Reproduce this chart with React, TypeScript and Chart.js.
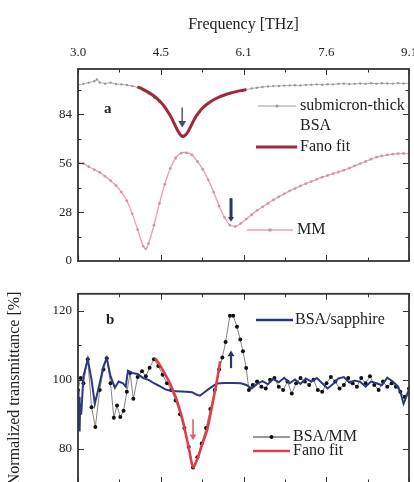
import React, { useEffect, useRef } from 'react';
import { Chart, registerables } from 'chart.js';
Chart.register(...registerables);

const FONT = '"Liberation Serif", "DejaVu Serif", "Times New Roman", serif';

// ---------- axes ----------
const xTickValues = [3.0, 4.525, 6.05, 7.575, 9.1];
const xTickLabels = ['3.0', '4.5', '6.1', '7.6', '9.1'];
const xMinorTicks = [3.7625, 5.2875, 6.8125, 8.3375];
const aYTicks = [0, 28, 56, 84];
const aYMinor = [14, 42, 70, 98];
const bYTicks = [80, 100, 120];
const bYMinor = [70, 90, 110];

// ---------- panel a ----------
const bsaFreq = [3.0, 3.1, 3.2, 3.3, 3.35, 3.4, 3.5, 3.6, 3.7, 3.8, 3.9, 4.0, 4.1, 4.2, 4.3, 4.4, 4.5, 4.6, 4.7, 4.8, 4.9, 5.0, 5.1, 5.2, 5.3, 5.4, 5.5, 5.6, 5.7, 5.8, 5.9, 6.0, 6.1, 6.2, 6.3, 6.4, 6.5, 6.6, 6.7, 6.8, 6.9, 7.0, 7.1, 7.2, 7.3, 7.4, 7.5, 7.6, 7.7, 7.8, 7.9, 8.0, 8.1, 8.2, 8.3, 8.4, 8.5, 8.6, 8.7, 8.8, 8.9, 9.0, 9.1];
const bsaT = [101.0, 101.5, 102.2, 103.0, 104.0, 102.3, 101.6, 102.2, 101.4, 101.2, 100.8, 100.3, 99.5, 97.8, 95.9, 93.6, 91.0, 87.8, 83.0, 77.5, 72.0, 73.0, 78.5, 83.5, 87.5, 90.2, 92.3, 94.0, 95.2, 96.3, 97.0, 97.6, 98.2, 98.8, 99.3, 99.7, 100.0, 100.2, 100.3, 100.5, 100.6, 100.7, 100.6, 100.9, 101.0, 101.2, 101.0, 101.3, 101.2, 101.5, 101.6, 101.4, 101.5, 101.7, 101.5, 101.8, 101.6, 101.8, 101.7, 101.6, 101.9, 101.7, 101.8];

const fanoAFreq = [4.1, 4.2, 4.3, 4.4, 4.5, 4.6, 4.7, 4.75, 4.8, 4.85, 4.9, 4.95, 5.0, 5.05, 5.1, 5.15, 5.2, 5.3, 5.4, 5.5, 5.6, 5.7, 5.8, 5.9, 6.0, 6.1];
const fanoAT = [99.8, 98.3, 96.6, 94.5, 91.8, 88.2, 83.3, 80.3, 77.0, 74.0, 71.8, 71.4, 72.8, 75.4, 78.5, 81.5, 84.0, 87.8, 90.4, 92.4, 93.9, 95.1, 96.1, 96.9, 97.6, 98.2];

const mmFreq = [3.0, 3.1, 3.2, 3.3, 3.4, 3.5, 3.6, 3.7, 3.8, 3.9, 4.0, 4.1, 4.2, 4.25, 4.3, 4.4, 4.5, 4.6, 4.7, 4.8, 4.9, 5.0, 5.1, 5.2, 5.3, 5.4, 5.5, 5.6, 5.7, 5.8, 5.9, 6.0, 6.1, 6.2, 6.3, 6.4, 6.5, 6.6, 6.7, 6.8, 6.9, 7.0, 7.1, 7.2, 7.3, 7.4, 7.5, 7.6, 7.7, 7.8, 7.9, 8.0, 8.1, 8.2, 8.3, 8.4, 8.5, 8.6, 8.7, 8.8, 8.9, 9.0, 9.1];
const mmT = [56.5, 55.8, 54.0, 52.3, 50.8, 48.5, 46.0, 43.2, 39.5, 34.5, 27.0, 18.0, 8.5, 7.0, 10.0, 20.5, 33.0, 44.0, 53.0, 59.0, 61.8, 62.0, 60.8, 57.0, 52.5, 46.5, 39.5, 31.5, 25.0, 20.5, 19.8, 21.5, 24.0, 26.5, 29.0, 31.0, 33.0, 35.0, 36.8, 38.5, 40.2, 41.5, 43.0, 44.3, 45.5, 46.8, 48.0, 49.0, 50.0, 51.0, 52.0, 53.2, 54.5, 55.8, 57.0, 58.3, 59.5, 60.2, 60.8, 61.2, 61.5, 61.6, 61.5];

// ---------- panel b ----------
const sapFreq = [3.0, 3.01, 3.02, 3.03, 3.04, 3.06, 3.1, 3.18, 3.25, 3.31, 3.4, 3.47, 3.53, 3.6, 3.68, 3.75, 3.83, 3.88, 3.92, 4.0, 4.1, 4.2, 4.3, 4.4, 4.5, 4.6, 4.7, 4.8, 4.9, 5.0, 5.1, 5.2, 5.25, 5.3, 5.4, 5.5, 5.56, 5.7, 5.86, 6.0, 6.1, 6.2, 6.3, 6.4, 6.5, 6.6, 6.7, 6.8, 6.9, 7.0, 7.1, 7.2, 7.3, 7.4, 7.5, 7.6, 7.7, 7.8, 7.9, 8.0, 8.1, 8.2, 8.3, 8.4, 8.5, 8.6, 8.7, 8.8, 8.9, 8.95, 9.0, 9.05, 9.1];
const sapT = [97, 86, 95, 85, 93, 90, 101, 106, 100, 93, 99, 104, 106.3, 101, 97.7, 99.5, 99, 98, 102.6, 102, 101.7, 100.5, 100, 99, 98.2, 97.3, 96.8, 96.7, 96.6, 96.5, 96.4, 95.6, 95.4, 96, 97.2, 98.3, 98.9, 99.1, 99.1, 99, 98.5, 97.5, 98.8, 99.6, 98.7, 100.2, 99.3, 100.6, 99, 100.1, 98.8, 100.4, 99.5, 100.5, 99, 97.5, 98.8, 100.4, 100.8, 99.2, 99.8, 99.4, 98, 99.5, 99, 98.4, 100.6, 99.5, 98, 96, 93, 95, 97];

const mmBFreq = [3.0, 3.05, 3.1, 3.18, 3.25, 3.32, 3.4, 3.47, 3.53, 3.6, 3.66, 3.72, 3.78, 3.84, 3.9, 3.96, 4.02, 4.1, 4.18, 4.25, 4.32, 4.4, 4.48, 4.56, 4.64, 4.72, 4.8, 4.88, 4.96, 5.04, 5.12, 5.2, 5.28, 5.36, 5.44, 5.52, 5.6, 5.66, 5.72, 5.8, 5.86, 5.93, 5.99, 6.04, 6.1, 6.15, 6.22, 6.3, 6.38, 6.46, 6.54, 6.62, 6.7, 6.78, 6.86, 6.94, 7.02, 7.1, 7.18, 7.26, 7.34, 7.42, 7.5, 7.58, 7.66, 7.74, 7.82, 7.9, 7.98, 8.06, 8.14, 8.22, 8.3, 8.38, 8.46, 8.54, 8.62, 8.7, 8.78, 8.86, 8.94, 9.02, 9.1];
const mmBT = [97, 100.5, 99, 106, 92, 86.3, 97, 103, 106.3, 99, 89, 92.5, 89.2, 91, 96.5, 102, 94.5, 100.8, 102.5, 101, 103.5, 106, 104, 101.5, 99, 97, 94, 90, 86, 80.5, 74.5, 77.5, 81.5, 86, 91.5, 97, 103, 106.5, 111, 118.6, 118.6, 115.4, 111.7, 108.3, 103.4, 97, 98.5, 99.5, 98, 97.5, 100, 100.5, 98, 97, 99.5, 96, 99, 100.5, 99.5, 98.5, 100, 97, 96.5, 99, 100.8, 99.5, 97.5, 98.5, 100.5, 99, 98, 100.5, 99, 101, 98.5, 97, 99.5, 98, 99, 98, 96.5, 95, 97.5];

const fanoBFreq = [4.42, 4.5, 4.6, 4.7, 4.75, 4.8, 4.9, 4.97, 5.05, 5.12, 5.2, 5.3, 5.38, 5.46, 5.56, 5.62];
const fanoBT = [106.3, 104.5, 101.8, 98.8, 96.9, 95.0, 90.0, 85.4, 79.5, 74.6, 77.0, 81.8, 85.4, 91.5, 99.7, 105.4];

// ---------- annotations (arrows in data units) ----------
const arrowsA = [
  { x: 4.92, from: 88, to: 76.5, color: '#4a4e66', width: 1.4, head: 4 },
  { x: 5.82, from: 36, to: 22.5, color: '#2b3470', width: 3, head: 3 },
];
const arrowsB = [
  { x: 5.12, from: 88.5, to: 82.5, color: '#e0606a', width: 1.6, head: 3.5 },
  { x: 5.82, from: 103.4, to: 108.5, color: '#2b3470', width: 2.2, head: 3.5 },
];

const COLORS = {
  frame: '#333',
  text: '#222',
  bsa: '#9a9a9a',
  fanoA: '#a3283b',
  mm: '#eaa3b3',
  mmPoint: '#c99aa6',
  sapphire: '#2e3880',
  mmB: '#111',
  fanoB: '#de3f4b',
};

function xy(xs: number[], ys: number[]) {
  const n = Math.min(xs.length, ys.length);
  const out: { x: number; y: number }[] = [];
  for (let i = 0; i < n; i++) out.push({ x: xs[i], y: ys[i] });
  return out;
}

const decorPlugin = {
  id: 'decor',
  afterDatasetsDraw(chart: any, _args: any, opts: any) {
    const { ctx, chartArea: ca, scales } = chart;
    const xs = scales.x;
    const ys = scales.y;
    ctx.save();
    const line = (x1: number, y1: number, x2: number, y2: number) => {
      ctx.beginPath();
      ctx.moveTo(x1, y1);
      ctx.lineTo(x2, y2);
      ctx.stroke();
    };
    // arrows
    for (const a of opts.arrows || []) {
      const px = xs.getPixelForValue(a.x);
      const p1 = ys.getPixelForValue(a.from);
      const p2 = ys.getPixelForValue(a.to);
      const dir = p2 > p1 ? 1 : -1;
      ctx.strokeStyle = a.color;
      ctx.fillStyle = a.color;
      ctx.lineWidth = a.width;
      line(px, p1, px, p2 - dir * a.head);
      ctx.beginPath();
      ctx.moveTo(px - a.head, p2 - dir * a.head * 1.6);
      ctx.lineTo(px + a.head, p2 - dir * a.head * 1.6);
      ctx.lineTo(px, p2);
      ctx.closePath();
      ctx.fill();
    }
    // frame ticks
    ctx.strokeStyle = COLORS.frame;
    ctx.lineWidth = 1;
    const xt = (vals: number[], len: number) => {
      for (const v of vals) {
        const px = Math.round(xs.getPixelForValue(v)) + 0.5;
        line(px, ca.top, px, ca.top + len);
        line(px, ca.bottom, px, ca.bottom - len);
      }
    };
    const yt = (vals: number[], len: number) => {
      for (const v of vals) {
        const py = Math.round(ys.getPixelForValue(v)) + 0.5;
        if (py < ca.top || py > ca.bottom) continue;
        line(ca.left, py, ca.left + len, py);
        line(ca.right, py, ca.right - len, py);
      }
    };
    xt(opts.xMajor, 6);
    xt(opts.xMinor, 3.5);
    yt(opts.yMajor, 6);
    yt(opts.yMinor, 3.5);
    ctx.lineWidth = 1.8;
    ctx.strokeRect(ca.left, ca.top, ca.right - ca.left, ca.bottom - ca.top);

    // legend entries
    ctx.textBaseline = 'middle';
    ctx.textAlign = 'left';
    for (const it of opts.legend || []) {
      ctx.strokeStyle = it.color;
      ctx.lineWidth = it.width;
      line(it.x1, it.y, it.x2, it.y);
      if (it.marker) {
        ctx.fillStyle = it.markerColor || it.color;
        ctx.beginPath();
        ctx.arc((it.x1 + it.x2) / 2, it.y, it.marker, 0, Math.PI * 2);
        ctx.fill();
      }
      ctx.fillStyle = COLORS.text;
      ctx.font = `16px ${FONT}`;
      it.text.forEach((t: string, i: number) => ctx.fillText(t, it.tx, it.y + i * 20));
    }
    // panel label
    if (opts.label) {
      ctx.fillStyle = COLORS.text;
      ctx.font = `bold 15px ${FONT}`;
      ctx.fillText(opts.label.text, opts.label.x, opts.label.y);
    }
    ctx.restore();
  },
};

function yScale(min: number, max: number, ticks: number[], title?: string) {
  return {
    type: 'linear',
    min,
    max,
    afterBuildTicks: (s: any) => {
      s.ticks = ticks.map((v) => ({ value: v }));
    },
    afterFit: (s: any) => {
      s.width = 78;
    },
    ticks: { padding: 6, color: COLORS.text, font: { family: FONT, size: 13 }, autoSkip: false },
    grid: { drawOnChartArea: false, drawTicks: false },
    border: { display: false },
    title: title
      ? { display: true, text: title, color: COLORS.text, font: { family: FONT, size: 16 }, padding: { top: 5, bottom: 0 } }
      : { display: false },
  };
}

export default function App() {
  const aRef = useRef<HTMLCanvasElement | null>(null);
  const bRef = useRef<HTMLCanvasElement | null>(null);

  useEffect(() => {
    Chart.defaults.font.family = FONT;
    const common = {
      animation: false,
      responsive: false,
      events: [],
      plugins: { legend: { display: false }, tooltip: { enabled: false } },
    };
    const chartA = new Chart(aRef.current as HTMLCanvasElement, {
      type: 'line',
      data: {
        datasets: [
          { data: xy(fanoAFreq, fanoAT), borderColor: COLORS.fanoA, borderWidth: 3, pointRadius: 0, tension: 0.3 },
          { data: xy(bsaFreq, bsaT), borderColor: COLORS.bsa, borderWidth: 0.8, pointRadius: 1.2, pointBackgroundColor: COLORS.bsa, pointBorderWidth: 0 },
          { data: xy(mmFreq, mmT), borderColor: COLORS.mm, borderWidth: 1.4, pointRadius: 1.4, pointBackgroundColor: COLORS.mmPoint, pointBorderWidth: 0, tension: 0.2 },
        ],
      },
      options: {
        ...common,
        layout: { padding: { left: 0, right: 21, top: 0, bottom: 19 } },
        scales: {
          x: {
            type: 'linear',
            position: 'top',
            min: 3.0,
            max: 9.1,
            afterBuildTicks: (s: any) => {
              s.ticks = xTickValues.map((v) => ({ value: v }));
            },
            afterFit: (s: any) => {
              s.height = 69;
            },
            ticks: {
              padding: 9,
              maxRotation: 0,
              autoSkip: false,
              color: COLORS.text,
              font: { family: FONT, size: 13 },
              callback: (_v: any, i: number) => xTickLabels[i],
            },
            grid: { drawOnChartArea: false, drawTicks: false },
            border: { display: false },
            title: { display: true, text: 'Frequency [THz]', color: COLORS.text, font: { family: FONT, size: 16 }, padding: { top: 15, bottom: 0 } },
          },
          y: yScale(0, 110, aYTicks),
        },
        plugins: {
          ...common.plugins,
          decor: {
            xMajor: xTickValues,
            xMinor: xMinorTicks,
            yMajor: aYTicks,
            yMinor: aYMinor,
            arrows: arrowsA,
            label: { text: 'a', x: 104, y: 109 },
            legend: [
              { x1: 258, x2: 296, y: 106, color: COLORS.bsa, width: 1, marker: 1.5, tx: 300, text: ['submicron-thick', 'BSA'] },
              { x1: 256, x2: 297, y: 147, color: COLORS.fanoA, width: 3, tx: 300, text: ['Fano fit'] },
              { x1: 247, x2: 293, y: 230, color: COLORS.mm, width: 1.4, marker: 1.8, markerColor: COLORS.mmPoint, tx: 297, text: ['MM'] },
            ],
          },
        },
      } as any,
      plugins: [decorPlugin],
    } as any);

    const chartB = new Chart(bRef.current as HTMLCanvasElement, {
      type: 'line',
      data: {
        datasets: [
          { data: xy(fanoBFreq, fanoBT), borderColor: COLORS.fanoB, borderWidth: 2.6, pointRadius: 0, tension: 0.3 },
          { data: xy(sapFreq, sapT), borderColor: COLORS.sapphire, borderWidth: 2, pointRadius: 0 },
          { data: xy(mmBFreq, mmBT), borderColor: '#666', borderWidth: 0.8, pointRadius: 2, pointBackgroundColor: COLORS.mmB, pointBorderWidth: 0 },
        ],
      },
      options: {
        ...common,
        layout: { padding: { left: 0, right: 21, top: 13, bottom: 37 } },
        scales: {
          x: { type: 'linear', display: false, min: 3.0, max: 9.1 },
          y: yScale(70, 125, bYTicks, 'Normalized transmittance [%]'),
        },
        plugins: {
          ...common.plugins,
          decor: {
            xMajor: xTickValues,
            xMinor: xMinorTicks,
            yMajor: bYTicks,
            yMinor: bYMinor,
            arrows: arrowsB,
            label: { text: 'b', x: 106, y: 40 },
            legend: [
              { x1: 256, x2: 293, y: 40, color: COLORS.sapphire, width: 2.5, tx: 295, text: ['BSA/sapphire'] },
              { x1: 253, x2: 290, y: 157, color: '#333', width: 1, marker: 2, markerColor: COLORS.mmB, tx: 293, text: ['BSA/MM'] },
              { x1: 253, x2: 290, y: 171, color: COLORS.fanoB, width: 2.6, tx: 293, text: ['Fano fit'] },
            ],
          },
        },
      } as any,
      plugins: [decorPlugin],
    } as any);

    return () => {
      chartA.destroy();
      chartB.destroy();
    };
  }, []);

  return (
    <div style={{ position: 'absolute', left: 0, top: 0, width: 414, height: 482, overflow: 'hidden', background: '#fff' }}>
      <canvas ref={aRef} width={430} height={280} style={{ position: 'absolute', left: 0, top: 0, width: 430, height: 280 }} />
      <canvas ref={bRef} width={430} height={240} style={{ position: 'absolute', left: 0, top: 280, width: 430, height: 240 }} />
    </div>
  );
}
